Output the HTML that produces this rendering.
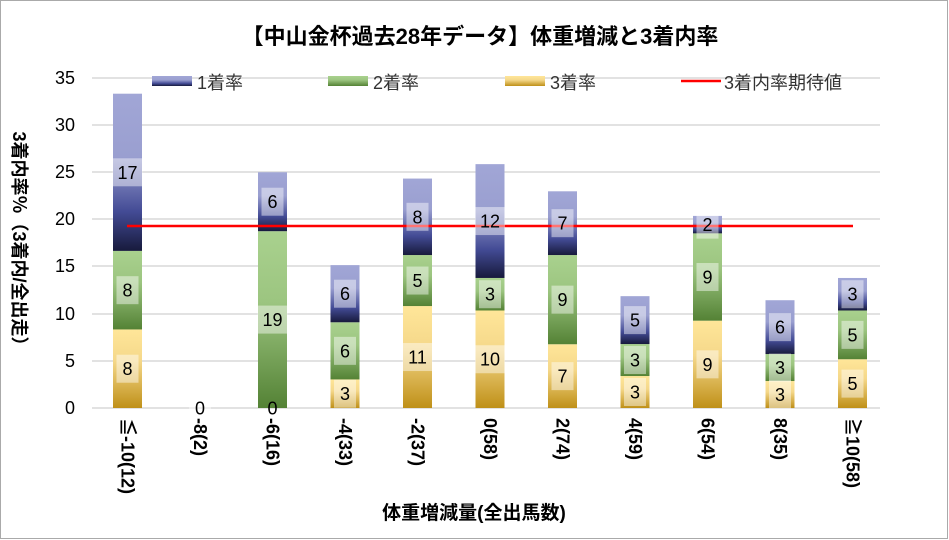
<!DOCTYPE html><html><head><meta charset="utf-8"><style>body{margin:0;background:#fff}svg{display:block}text{font-family:"Liberation Sans","Noto Sans CJK JP",sans-serif}</style></head><body>
<svg width="949" height="540" viewBox="0 0 949 540" xmlns="http://www.w3.org/2000/svg">
<defs>
<linearGradient id="g1" x1="0" y1="0" x2="0" y2="1"><stop offset="0" stop-color="#a1a6d6"/><stop offset="0.4" stop-color="#9a9fd0"/><stop offset="0.75" stop-color="#434b95"/><stop offset="1" stop-color="#171a3c"/></linearGradient>
<linearGradient id="g2" x1="0" y1="0" x2="0" y2="1"><stop offset="0" stop-color="#a9d18e"/><stop offset="0.4" stop-color="#9cc580"/><stop offset="1" stop-color="#548235"/></linearGradient>
<linearGradient id="g3" x1="0" y1="0" x2="0" y2="1"><stop offset="0" stop-color="#ffe699"/><stop offset="0.4" stop-color="#f5d88a"/><stop offset="1" stop-color="#bf9018"/></linearGradient>
</defs>
<rect x="0.5" y="0.5" width="947" height="538" fill="#fff" stroke="#aaa"/>
<text x="480" y="44" font-size="22" font-weight="bold" text-anchor="middle" fill="#000">【中山金杯過去28年データ】体重増減と3着内率</text>
<g stroke="#d9d9d9" stroke-width="1.5">
<line x1="92" x2="880" y1="408" y2="408"/><line x1="92" x2="880" y1="361" y2="361"/><line x1="92" x2="880" y1="314" y2="314"/><line x1="92" x2="880" y1="266" y2="266"/><line x1="92" x2="880" y1="219" y2="219"/><line x1="92" x2="880" y1="172" y2="172"/><line x1="92" x2="880" y1="125" y2="125"/><line x1="92" x2="880" y1="78" y2="78"/>
</g>
<g font-size="18" text-anchor="end" fill="#000">
<text x="75" y="414">0</text><text x="75" y="367">5</text><text x="75" y="320">10</text><text x="75" y="272">15</text><text x="75" y="225">20</text><text x="75" y="178">25</text><text x="75" y="131">30</text><text x="75" y="84">35</text>
</g>
<text transform="translate(13,243) rotate(90)" font-size="18" font-weight="bold" text-anchor="middle" fill="#000">3着内率％（3着内/全出走）</text>
<g id="bars"></g>
<line x1="127" x2="853" y1="226" y2="226" stroke="#f00" stroke-width="2.5"/>
<g id="labs"></g>
<rect x="152" y="76" width="40" height="10" fill="url(#g1)"/><text x="197" y="89" font-size="18" fill="#333">1着率</text>
<rect x="328" y="76" width="40" height="10" fill="url(#g2)"/><text x="373" y="89" font-size="18" fill="#333">2着率</text>
<rect x="505" y="76" width="40" height="10" fill="url(#g3)"/><text x="550" y="89" font-size="18" fill="#333">3着率</text>
<line x1="681" x2="721" y1="81" y2="81" stroke="#f00" stroke-width="2.5"/><text x="724" y="89" font-size="18" fill="#333">3着内率期待値</text>
<g id="xl" font-size="18" font-weight="bold" fill="#000"></g>
<text x="474" y="519" font-size="19" font-weight="bold" text-anchor="middle" fill="#000">体重増減量(全出馬数)</text>
<script>
var d=[["≦-10(12)",8.33,8.33,16.67],["-8(2)",0,0,0],["-6(16)",0,18.75,6.25],["-4(33)",3.03,6.06,6.06],["-2(37)",10.81,5.41,8.11],["0(58)",10.34,3.45,12.07],["2(74)",6.76,9.46,6.76],["4(59)",3.39,3.39,5.08],["6(54)",9.26,9.26,1.85],["8(35)",2.86,2.86,5.71],["≧10(58)",5.17,5.17,3.45]];
var ns="http://www.w3.org/2000/svg",B=document.getElementById("bars"),L=document.getElementById("labs"),X=document.getElementById("xl");
function el(p,t,a,tx){var e=document.createElementNS(ns,t);for(var k in a)e.setAttribute(k,a[k]);if(tx!=null)e.textContent=tx;p.appendChild(e);return e;}
function Y(v){return 408-v*9.43;}
d.forEach(function(r,i){var cx=127.5+i*72.5,base=0;
[[r[1],"g3"],[r[2],"g2"],[r[3],"g1"]].forEach(function(s,j){var v=s[0];
if(v>0){el(B,"rect",{x:cx-14.5,y:Y(base+v),width:29,height:v*9.43,fill:"url(#"+s[1]+")"});}
var lv=Math.round(v),cy=Y(base+v/2);
if(v>0||(i==1&&j==0)||(i==2&&j==0)){var w=lv>=10?30:22;
if(!(i==2&&j==0))el(L,"rect",{x:cx-w/2,y:cy-14,width:w,height:28,fill:"#fff","fill-opacity":0.45});
el(L,"text",{x:cx,y:cy+6.5,"font-size":18,"text-anchor":"middle",fill:"#000"},lv);}
base+=v;});
el(X,"text",{transform:"translate("+(cx-6)+",418) rotate(90)"},r[0]);});
</script>
</svg></body></html>
